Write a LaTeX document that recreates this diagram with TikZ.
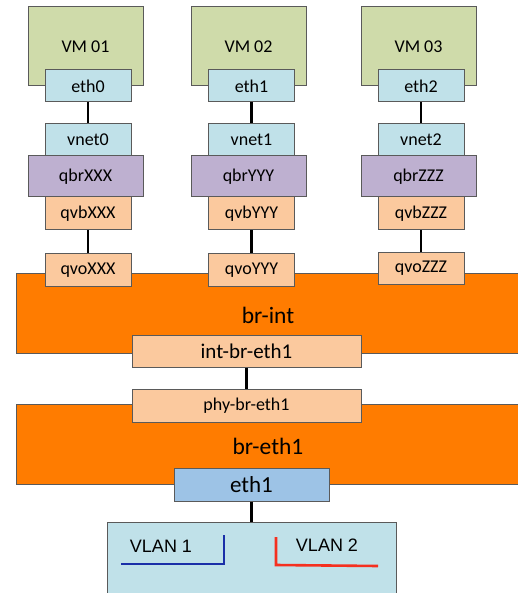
\documentclass[tikz,border=0pt]{standalone}
\usepackage{fontspec}
\setmainfont{Carlito}
\newfontfamily\arialfont{Liberation Sans}
\definecolor{vmgreen}{HTML}{CFDBAA}
\definecolor{ifblue}{HTML}{C0E1E9}
\definecolor{qbrpurple}{HTML}{BEB0D0}
\definecolor{portorange}{HTML}{FBC99E}
\definecolor{bridgeorange}{HTML}{FF7C00}
\definecolor{nicblue}{HTML}{9DC3E6}
\definecolor{edgegray}{HTML}{5A5A5A}
\definecolor{vlanblue}{HTML}{1A2FA8}
\definecolor{vlanred}{HTML}{F53020}
\begin{document}
\begin{tikzpicture}[x=1pt,y=-1pt,
  box/.style={draw=edgegray, line width=1pt, inner sep=0pt, text=black,
    font=\fontsize{18}{18}\selectfont},
  vmbox/.style={box, fill=vmgreen, minimum width=115pt, minimum height=79pt},
  ifbox/.style={box, fill=ifblue, minimum width=86pt, minimum height=32pt},
  qbrbox/.style={box, fill=qbrpurple, minimum width=115pt, minimum height=41pt},
  portbox/.style={box, fill=portorange, minimum width=86pt, minimum height=33pt},
  bridge/.style={box, fill=bridgeorange, minimum width=514pt, minimum height=80pt},
  bridgelabel/.style={font=\fontsize{23.5}{23.5}\selectfont, inner sep=0pt},
  vlanlabel/.style={font=\arialfont\fontsize{18}{18}\selectfont, inner sep=0pt},
  vlanline/.style={line width=2.6pt},
  wire/.style={draw=black, line width=2.4pt},
]
\useasboundingbox (0,0) rectangle (518,593);
\clip (0,0) rectangle (518,593);

% virtual machines and their interfaces
\foreach \c/\bx/\sx/\n/\e/\s in {1/85.5/88/01/0/XXX, 2/248.5/251.5/02/1/YYY, 3/418.5/421/03/2/ZZZ} {
  \node[vmbox] (vm\c) at (\bx,46.5) {\raisebox{-3pt}{VM \n}};
  \node[ifbox] (eth\c) at (\sx,86) {eth\e};
  \node[ifbox] (vnet\c) at (\sx,140) {vnet\e};
  \node[qbrbox] (qbr\c) at (\bx,176.5) {qbr\s};
  \node[portbox] (qvb\c) at (\sx,213.5) {qvb\s};
}

% integration bridge with its ports
\node[bridge] (brint) at (273,313) {};
\node[bridgelabel] (brintlbl) at (268,315) {br-int};
\node[portbox] (qvo1) at (88,270) {qvoXXX};
\node[portbox] (qvo2) at (251.5,270) {qvoYYY};
\node[portbox, minimum height=32pt] (qvo3) at (421,268) {qvoZZZ};
\node[portbox, minimum width=229pt, minimum height=32pt,
  font=\fontsize{21}{21}\selectfont] (intbr) at (246.5,351) {int-br-eth1};

% physical bridge
\node[bridge] (breth) at (273,444) {};
\node[bridgelabel] (brethlbl) at (268,446) {br-eth1};
\node[portbox, minimum width=229pt] (phybr) at (246.5,405.5) {phy-br-eth1};
\node[box, fill=nicblue, minimum width=155pt, minimum height=33pt,
  font=\fontsize{23}{23}\selectfont] (nic) at (251.5,484.5) {eth1};

% physical network with VLANs
\node[box, fill=ifblue, minimum width=289pt, minimum height=90pt, anchor=north]
  (net) at (251.5,522) {};
\node[vlanlabel] (vlan1) at (161,546) {VLAN 1};
\node[vlanlabel] (vlan2) at (327,545) {VLAN 2};
\coordinate (v1a) at (121,564);
\coordinate (v1b) at (224,564);
\coordinate (v1c) at (224,535);
\coordinate (v2a) at (276,537);
\coordinate (v2b) at (276,565);
\coordinate (v2c) at (378,566);
\draw[vlanblue, vlanline] (v1a) -- (v1b) -- (v1c);
\draw[vlanred, vlanline] (v2a) -- (v2b) -- (v2c);

% links
\foreach \c in {1,2,3} {
  \draw[wire] (eth\c.south) -- (vnet\c.north);
  \draw[wire] (qvb\c.south) -- (qvo\c.north);
}
\draw[wire] (intbr.south) -- (phybr.north);
\draw[wire] (nic.south) -- (net.north);
\end{tikzpicture}
\end{document}
